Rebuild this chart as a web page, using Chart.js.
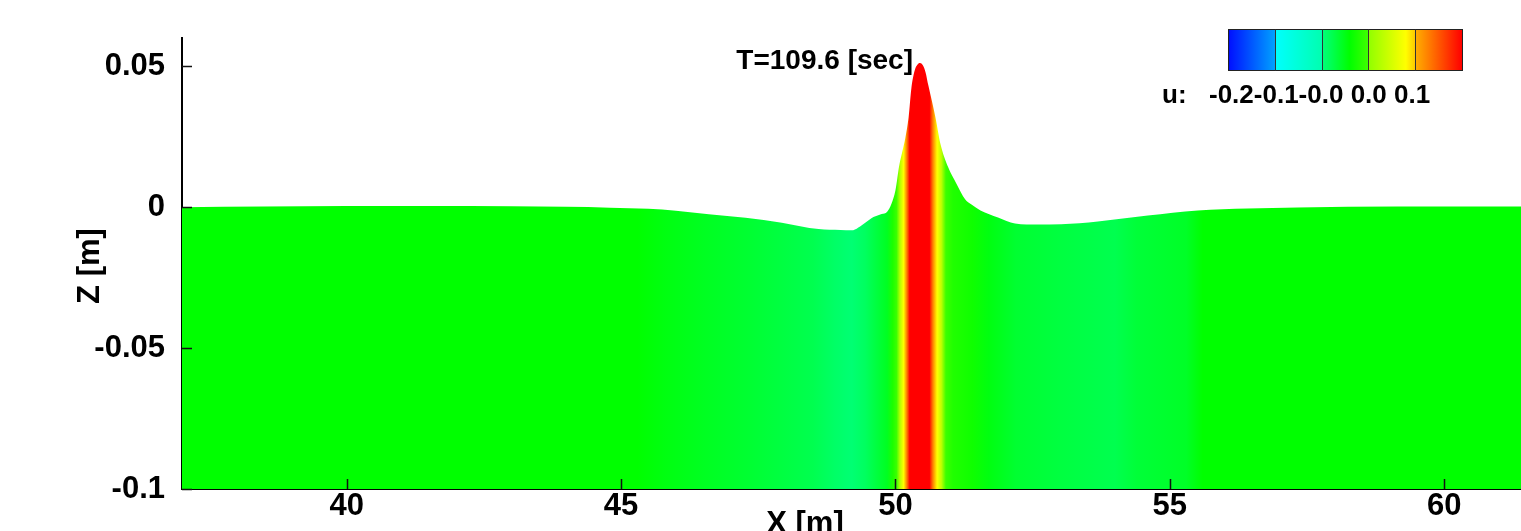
<!DOCTYPE html>
<html>
<head>
<meta charset="utf-8">
<script src="https://cdn.jsdelivr.net/npm/chart.js@4.4.0/dist/chart.umd.min.js"></script>
<style>
html,body{margin:0;padding:0;background:#fff;}
#wrap{width:1521px;height:531px;position:relative;}
</style>
</head>
<body>
<div id="wrap"><canvas id="c"></canvas></div>
<script>
// ---- data ----
const xValues = [37.0, 38.5, 40.0, 41.5, 43.0, 44.0, 44.8, 45.5, 46.0, 46.6, 47.27, 47.93, 48.6, 49.0, 49.2, 49.45, 49.6, 49.75, 49.85, 49.93, 50.0, 50.07, 50.13, 50.18, 50.24, 50.29, 50.35, 50.40, 50.45, 50.50, 50.55, 50.6, 50.73, 50.82, 50.96, 51.11, 51.27, 51.38, 51.55, 51.87, 52.18, 52.6, 53.02, 53.69, 54.6, 55.51, 56.42, 57.33, 59.15, 61.4];
const zValues = [0.0, 0.0002, 0.0004, 0.0004, 0.0003, 0.0001, -0.0002, -0.0006, -0.0013, -0.0025, -0.0038, -0.0055, -0.0078, -0.0081, -0.0082, -0.0055, -0.0035, -0.0024, -0.0016, 0.0013, 0.0059, 0.0148, 0.0200, 0.0244, 0.0318, 0.0420, 0.0484, 0.0505, 0.0511, 0.0503, 0.0478, 0.0432, 0.0318, 0.0225, 0.0142, 0.0084, 0.0028, 0.0010, -0.0012, -0.0037, -0.0058, -0.0062, -0.0061, -0.0051, -0.0030, -0.0012, -0.0005, -0.0001, 0.0002, 0.0002];
const uX = [37.0, 45.3, 45.8, 46.5, 47.3, 47.9, 48.5, 48.9, 49.2, 49.45, 49.65, 49.85, 49.95, 50.02, 50.08, 50.15, 50.21, 50.26, 50.62, 50.68, 50.76, 50.84, 50.92, 51.05, 51.4, 51.7, 52.2, 53.0, 54.0, 54.4, 55.3, 55.6, 61.4];
const uValues = [0.009, 0.009, 0.004, -0.001, -0.006, -0.0105, -0.015, -0.022, -0.026, -0.020, -0.0105, -0.001, 0.02, 0.033, 0.05, 0.087, 0.12, 0.165, 0.165, 0.12, 0.087, 0.055, 0.033, 0.022, 0.015, 0.004, -0.006, -0.0105, -0.015, -0.008, -0.003, 0.009, 0.009];
const xMajorTicks = [40, 45, 50, 55, 60];
const xTickLabels = ['40', '45', '50', '55', '60'];
const yMajorTicks = [-0.1, -0.05, 0, 0.05];
const yTickLabels = ['-0.1', '-0.05', '0', '0.05'];
const colorbarLevels = [-0.16, -0.095, -0.03, 0.035, 0.1, 0.165];
const colorbarLabelText = '-0.2-0.1-0.0 0.0 0.1';
const colorbarVariable = 'u:';
const timeLabel = 'T=109.6 [sec]';
const xTitle = 'X [m]';
const yTitle = 'Z [m]';

const FONT = '"Liberation Sans", Arial, Helvetica, sans-serif';
// banded rainbow colour map (position along bar, rgb)
const cmapStops = [
  [0, [0, 0, 230]], [0.01, [0, 20, 255]], [0.2, [0, 160, 255]],
  [0.2, [0, 255, 255]], [0.4, [0, 255, 176]],
  [0.4, [0, 255, 128]], [0.52, [0, 255, 0]], [0.6, [64, 255, 0]],
  [0.6, [144, 255, 0]], [0.76, [255, 255, 0]], [0.8, [255, 200, 0]],
  [0.8, [255, 176, 0]], [1, [255, 0, 0]]
];

function colorAtT(t) {
  t = Math.max(0, Math.min(1, t));
  for (let i = 1; i < cmapStops.length; i++) {
    if (t <= cmapStops[i][0] && cmapStops[i][0] > cmapStops[i - 1][0]) {
      const [t0, c0] = cmapStops[i - 1], [t1, c1] = cmapStops[i];
      const f = (t - t0) / (t1 - t0);
      return 'rgb(' + c0.map((v, k) => Math.round(v + (c1[k] - v) * f)).join(',') + ')';
    }
  }
  return 'rgb(255,0,0)';
}
function colorFor(u) {
  const lo = colorbarLevels[0], hi = colorbarLevels[colorbarLevels.length - 1];
  return colorAtT((u - lo) / (hi - lo));
}

function fillGradient(context) {
  const chart = context.chart;
  const area = chart.chartArea;
  if (!area) return '#00ff00';
  const xs = chart.scales.x;
  const g = chart.ctx.createLinearGradient(area.left, 0, area.right, 0);
  uX.forEach((x, i) => {
    let p = (xs.getPixelForValue(x) - area.left) / (area.right - area.left);
    p = Math.max(0, Math.min(1, p));
    g.addColorStop(p, colorFor(uValues[i]));
  });
  return g;
}

const isMajor = (list, v) => list.findIndex(m => Math.abs(m - v) < 1e-6);

const decorPlugin = {
  id: 'decor',
  afterDraw(chart) {
    const {ctx, chartArea: a, scales: {x, y}} = chart;
    ctx.save();
    // inward ticks
    ctx.strokeStyle = '#111';
    ctx.lineWidth = 1.5;
    ctx.beginPath();
    x.ticks.forEach(t => {
      const px = Math.round(x.getPixelForValue(t.value)) + 0.5;
      const len = isMajor(xMajorTicks, t.value) >= 0 ? 10 : 6;
      ctx.moveTo(px, a.bottom);
      ctx.lineTo(px, a.bottom - len);
    });
    y.ticks.forEach(t => {
      const py = Math.round(y.getPixelForValue(t.value)) + 0.5;
      const len = isMajor(yMajorTicks, t.value) >= 0 ? 10 : 6;
      ctx.moveTo(a.left, py);
      ctx.lineTo(a.left + len, py);
    });
    ctx.stroke();

    ctx.fillStyle = '#000';
    // axis titles
    ctx.font = 'bold 31px ' + FONT;
    ctx.textAlign = 'center';
    ctx.textBaseline = 'alphabetic';
    ctx.fillText(xTitle, 805, 533);
    ctx.save();
    ctx.translate(99, 266);
    ctx.rotate(-Math.PI / 2);
    ctx.fillText(yTitle, 0, 0);
    ctx.restore();

    // time label
    ctx.font = 'bold 28px ' + FONT;
    ctx.textAlign = 'right';
    ctx.fillText(timeLabel, 913, 69);

    // colorbar
    const bx = 1228, by = 29.5, bw = 234, bh = 41;
    const g = ctx.createLinearGradient(bx, 0, bx + bw, 0);
    cmapStops.forEach(([t, c]) => g.addColorStop(t, 'rgb(' + c.join(',') + ')'));
    ctx.fillStyle = g;
    ctx.fillRect(bx, by, bw, bh);
    ctx.strokeStyle = '#222';
    ctx.lineWidth = 1;
    ctx.strokeRect(bx + 0.5, by, bw, bh);
    ctx.strokeStyle = '#333';
    const n = colorbarLevels.length - 1;
    ctx.beginPath();
    for (let i = 1; i < n; i++) {
      const lx = Math.round(bx + bw * i / n) + 0.5;
      ctx.moveTo(lx, by);
      ctx.lineTo(lx, by + bh);
    }
    ctx.stroke();
    ctx.fillStyle = '#000';
    ctx.font = 'bold 26px ' + FONT;
    ctx.textAlign = 'left';
    ctx.fillText(colorbarVariable, 1162, 103);
    ctx.fillText(colorbarLabelText, 1209, 103);
    ctx.restore();
  }
};

new Chart(document.getElementById('c'), {
  type: 'line',
  data: {
    datasets: [{
      data: xValues.map((xv, i) => ({x: xv, y: zValues[i]})),
      fill: 'start',
      backgroundColor: fillGradient,
      borderWidth: 0,
      pointRadius: 0,
      cubicInterpolationMode: 'monotone'
    }]
  },
  options: {
    responsive: true,
    maintainAspectRatio: false,
    animation: false,
    layout: {padding: {top: 38, right: 0, left: 0, bottom: 0}},
    plugins: {legend: {display: false}, tooltip: {enabled: false}},
    scales: {
      x: {
        type: 'linear', min: 37, max: 61.4, z: 1,
        grid: {display: false, drawTicks: false},
        border: {display: true, color: '#000', width: 2},
        ticks: {
          stepSize: 1, autoSkip: false, maxRotation: 0, minRotation: 0, includeBounds: false,
          padding: 2, color: '#000',
          font: {family: FONT, size: 31, weight: 'bold', lineHeight: 1},
          callback: v => { const k = isMajor(xMajorTicks, v); return k >= 0 ? xTickLabels[k] : null; }
        },
        afterFit: s => { s.height = 42; }
      },
      y: {
        type: 'linear', min: -0.1, max: 0.06, z: 1,
        grid: {display: false, drawTicks: false},
        border: {display: true, color: '#000', width: 2},
        ticks: {
          stepSize: 0.01, autoSkip: false, includeBounds: false,
          padding: 17, color: '#000',
          font: {family: FONT, size: 31, weight: 'bold', lineHeight: 1},
          callback: v => { const k = isMajor(yMajorTicks, v); return k >= 0 ? yTickLabels[k] : null; }
        },
        afterFit: s => { s.width = 182; }
      }
    }
  },
  plugins: [decorPlugin]
});
</script>
</body>
</html>
